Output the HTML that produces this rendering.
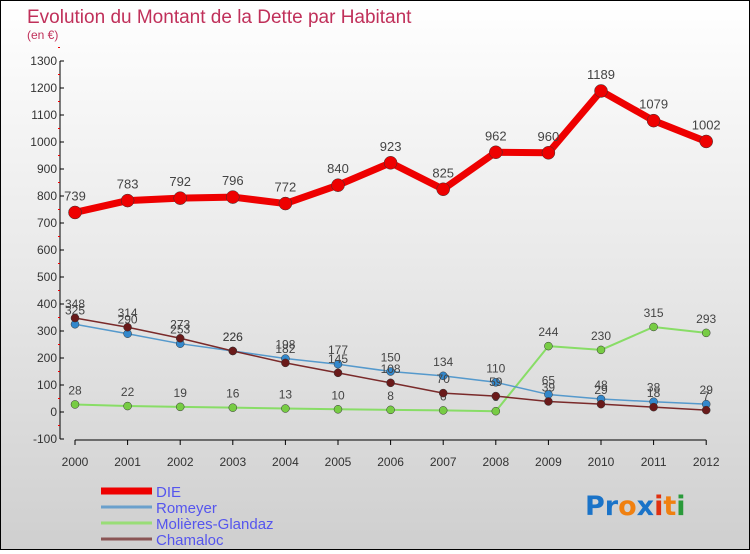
<!DOCTYPE html>
<html><head><meta charset="utf-8">
<style>
html,body{margin:0;padding:0}
body{width:750px;height:550px;overflow:hidden;font-family:"Liberation Sans",sans-serif}
#wrap{position:relative;width:748px;height:548px;border:1px solid #000;background:linear-gradient(#fff 0%,#e8e8e8 50%,#cfcfcf 100%)}
</style></head><body>
<div id="wrap">
<svg id="chart" width="748" height="548" xmlns="http://www.w3.org/2000/svg">
<text x="26" y="22" font-size="19" fill="#c0305a" font-family="Liberation Sans, sans-serif">Evolution du Montant de la Dette par Habitant</text>
<text x="26" y="38" font-size="12" fill="#c0305a">(en €)</text>
<g id="axes"></g><g id="series"></g><g id="legend"></g>
<text x="584" y="514" font-size="27" font-weight="bold" font-family="DejaVu Sans, sans-serif"><tspan fill="#1a73c8">Pr</tspan><tspan fill="#f08010">o</tspan><tspan fill="#1a73c8">x</tspan><tspan fill="#e03010">i</tspan><tspan fill="#f08010">t</tspan><tspan fill="#2a9a3a">i</tspan></text>
</svg>
</div>
<script>
const years=["2000","2001","2002","2003","2004","2005","2006","2007","2008","2009","2010","2011","2012"];
const die=[739,783,792,796,772,840,923,825,962,960,1189,1079,1002];
const romeyer=[325,290,253,226,198,177,150,134,110,65,48,38,29];
const molieres=[28,22,19,16,13,10,8,6,3,244,230,315,293];
const chamaloc=[348,314,273,226,182,145,108,70,59,39,29,18,7];
const yTicks=[-100,0,100,200,300,400,500,600,700,800,900,1000,1100,1200,1300];
const NS="http://www.w3.org/2000/svg";
function X(i){return 74+i*52.6;}
function Y(v){return 411-v*0.27;}
function mk(tag,attrs,parent){const e=document.createElementNS(NS,tag);for(const k in attrs)e.setAttribute(k,attrs[k]);parent.appendChild(e);return e;}
const axes=document.getElementById('axes');
let a=mk('line',{x1:59,y1:Y(1300),x2:59,y2:Y(-100),stroke:'#000','stroke-width':1},axes);


a=mk('line',{x1:X(0),y1:439,x2:X(12),y2:439,stroke:'#000','stroke-width':1},axes);


yTicks.forEach(v=>{
  mk('line',{x1:59,y1:Y(v),x2:63,y2:Y(v),stroke:'#000'},axes);
  mk('line',{x1:57,y1:Y(v+50),x2:59,y2:Y(v+50),stroke:'#e00'},axes);
  const t=mk('text',{x:56,y:Y(v)+4,'font-size':12,'text-anchor':'end',fill:'#333'},axes);
  t.textContent=v;
  
  
});
years.forEach((y,i)=>{
  mk('line',{x1:X(i),y1:439,x2:X(i),y2:444,stroke:'#000'},axes);
  const t=mk('text',{x:X(i),y:465,'font-size':12,'text-anchor':'middle',fill:'#333'},axes);
  t.textContent=y;
  
  
});
const ser=document.getElementById('series');
function draw(vals,color,dot,w,r,name,fs){
  const g=mk('g',{},ser);
  
  
  const p=mk('polyline',{points:vals.map((v,i)=>X(i)+','+Y(v)).join(' '),fill:'none',stroke:color,'stroke-width':w,'stroke-linejoin':'round'},g);
  
  
  vals.forEach((v,i)=>{
    const c=mk('circle',{cx:X(i),cy:Y(v),r:r,fill:dot,stroke:'#333','stroke-width':0.5},g);
    
    
    const t=mk('text',{x:X(i),y:Y(v)-(fs>12?12:10),'font-size':fs,'text-anchor':'middle',fill:'#444'},g);
    t.textContent=v;
    
    
  });
}
draw(molieres,'#88dd66','#77cc44',2,4,'molieres-glandaz',12);
draw(romeyer,'#5599cc','#3388cc',1.5,4,'romeyer',12);
draw(chamaloc,'#7a2a2a','#6a1a1a',1.5,4,'chamaloc',12);
draw(die,'#ee0000','#ee0000',7,6.5,'die',13);
const leg=document.getElementById('legend');
const lg=[['DIE','#ee0000',7],['Romeyer','#6aa0cc',3],['Molières-Glandaz','#99dd77',3],['Chamaloc','#8a5555',3]];
lg.forEach((l,i)=>{
  const y=490+i*16;
  const g=mk('g',{},leg);
  
  
  mk('line',{x1:100,y1:y,x2:151,y2:y,stroke:l[1],'stroke-width':l[2]},g);
  const t=mk('text',{x:155,y:y+6,'font-size':15,fill:'#5555ee'},g);
  t.textContent=l[0];
});
</script>
</body></html>
